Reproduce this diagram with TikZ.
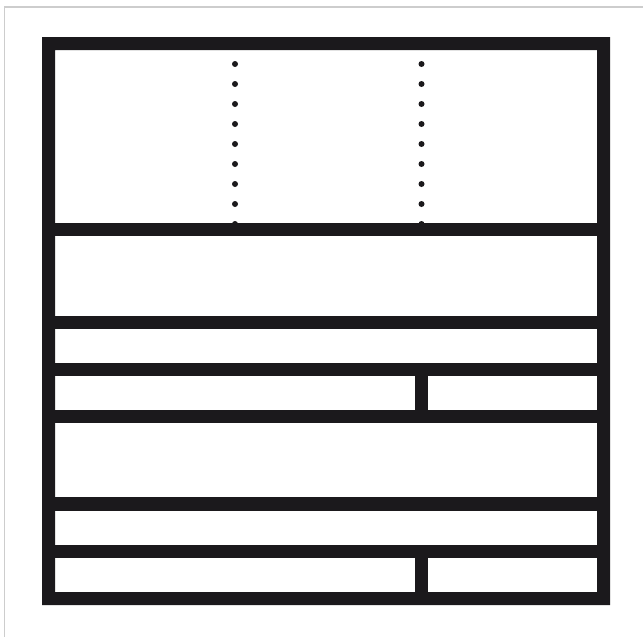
\documentclass[tikz,border=0pt]{standalone}
\definecolor{ink}{RGB}{27,25,28}
\definecolor{edge}{RGB}{205,205,205}
\begin{document}
\begin{tikzpicture}[x=1pt,y=-1pt,
  bar/.style={fill=ink,draw=none},
  dotmark/.style={fill=ink,draw=none}]
\useasboundingbox (0,0) rectangle (643,637);
\fill[white] (0,0) rectangle (643,637);
\draw[edge,line width=1.5pt] (4.5,637) -- (4.5,7) -- (643,7);
% outer frame
\fill[ink,even odd rule] (42,37) rectangle (610,605) (55,50) rectangle (597,592);
% horizontal bars
\foreach \a/\b in {223/236,316/328.5,363/376,410/423,497/510.5,545/558}
  \fill[bar] (54,\a) rectangle (598,\b);
% vertical dividers
\fill[bar] (415,375) rectangle (428,411);
\fill[bar] (415,557) rectangle (428,593);
% dotted lines
\foreach \xx in {235,421.5}
  \foreach \k in {0,...,8}
    \fill[dotmark] (\xx,64+20*\k) circle (3);
\end{tikzpicture}
\end{document}
